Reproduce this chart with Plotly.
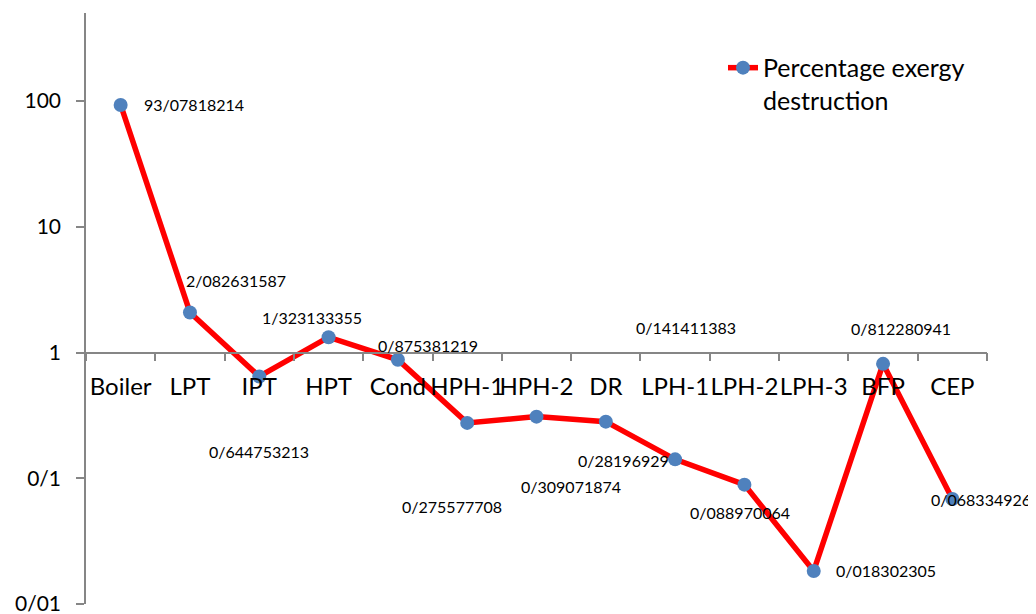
import math
import plotly.graph_objects as go

# ---------------- data ----------------
components = ["Boiler", "LPT", "IPT", "HPT", "Cond", "HPH-1", "HPH-2",
              "DR", "LPH-1", "LPH-2", "LPH-3", "BFP", "CEP"]
exergy_destruction_pct = [93.07818214, 2.082631587, 0.644753213, 1.323133355,
                          0.875381219, 0.275577708, 0.309071874, 0.28196929,
                          0.141411383, 0.088970064, 0.018302305, 0.812280941,
                          0.068334926]
value_labels = ["93/07818214", "2/082631587", "0/644753213", "1/323133355",
                "0/875381219", "0/275577708", "0/309071874", "0/28196929",
                "0/141411383", "0/088970064", "0/018302305", "0/812280941",
                "0/068334926"]
y_tick_values = [0.01, 0.1, 1, 10, 100]
y_tick_labels = ["0/01", "0/1", "1", "10", "100"]
series_name = "Percentage exergy<br>destruction"

# ---------------- styling ----------------
FONT = "Lato, Carlito, Calibri, sans-serif"
AXIS_GRAY = "#868686"
Y_MIN_LOG, Y_MAX_LOG = -2, 2.70

# pixel offsets of each data label (left edge, vertical centre) from its marker
label_dx = [21, -6, -52, -69, -22, -67, -18, -30, -41, -56, 20, -34, -23]
label_dy = [0, 32, -75, 20, 14, -84, -70, -39, 132, -28, 0, 35, 0]

fig = go.Figure()
fig.add_trace(go.Scatter(
    x=components, y=exergy_destruction_pct, mode="lines+markers",
    name=series_name,
    line=dict(color="#FF0000", width=5.5),
    marker=dict(color="#4F81BD", size=14, line=dict(width=0)),
    showlegend=True,
))

annotations = []
for comp, val, txt, dx, dy in zip(components, exergy_destruction_pct,
                                  value_labels, label_dx, label_dy):
    annotations.append(dict(
        x=comp, y=math.log10(val), xref="x", yref="y", text=txt,
        showarrow=False, xanchor="left", yanchor="middle",
        xshift=dx, yshift=dy,
        font=dict(family=FONT, size=16, color="#000000"),
    ))

x_cross = (0 - Y_MIN_LOG) / (Y_MAX_LOG - Y_MIN_LOG)

fig.update_layout(
    width=1036, height=614,
    margin=dict(l=78, r=57, t=5, b=18, autoexpand=False),
    paper_bgcolor="white", plot_bgcolor="white",
    font=dict(family=FONT, color="#000000"),
    annotations=annotations,
    legend=dict(
        x=0.707, y=0.946, xanchor="left", yanchor="top",
        font=dict(family=FONT, size=25, color="#000000"),
        valign="top", bgcolor="rgba(0,0,0,0)",
    ),
    xaxis=dict(
        type="category", range=[-0.5, len(components) - 0.5],
        anchor="free", position=x_cross, automargin=False,
        showline=True, linecolor=AXIS_GRAY, linewidth=1.5,
        ticks="outside", tickson="boundaries", ticklen=8,
        tickcolor=AXIS_GRAY, tickwidth=1.5, tickangle=0,
        showgrid=False, zeroline=False,
        tickfont=dict(family=FONT, size=24, color="#000000"),
        ticklabelstandoff=13,
    ),
    yaxis=dict(
        type="log", range=[Y_MIN_LOG, Y_MAX_LOG], automargin=False,
        tickvals=y_tick_values, ticktext=y_tick_labels,
        showline=True, linecolor=AXIS_GRAY, linewidth=1.5,
        ticks="outside", ticklen=8, tickcolor=AXIS_GRAY, tickwidth=1.5,
        showgrid=False, zeroline=False,
        tickfont=dict(family=FONT, size=21, color="#000000"),
        ticklabelstandoff=11,
    ),
)

fig.write_html("out.html")
